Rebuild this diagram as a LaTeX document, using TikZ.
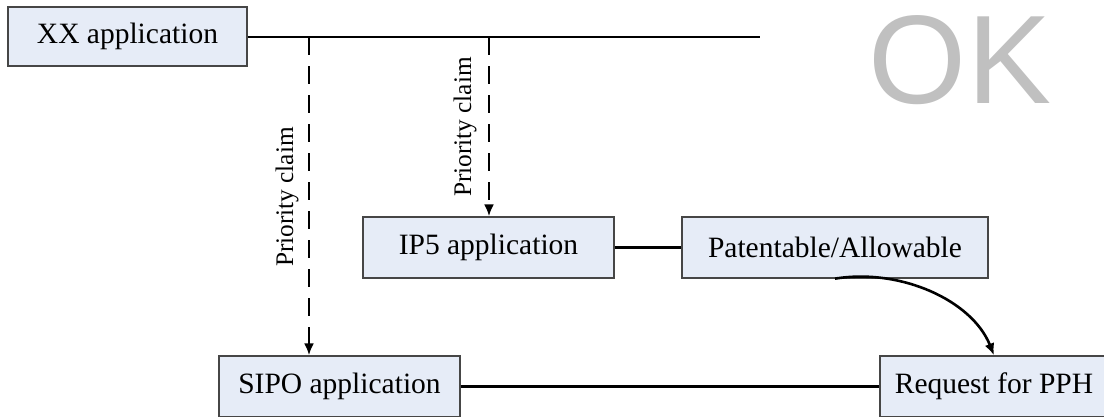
\documentclass[tikz,border=0pt]{standalone}
\usepackage{fontspec}
\setmainfont{Liberation Serif}
\newfontfamily\oksans{Liberation Sans}
\usetikzlibrary{arrows.meta}
\definecolor{boxfill}{RGB}{230,236,247}
\definecolor{boxline}{RGB}{70,70,70}
\definecolor{okgray}{RGB}{192,192,192}
\tikzset{
  box/.style={draw=boxline, line width=1.3pt, fill=boxfill, inner sep=0pt,
    font=\fontsize{29.5}{32}\selectfont, minimum height=61pt},
  link/.style={line width=2.6pt},
  claim/.style={line width=2.6pt, dash pattern=on 18pt off 11pt,
    -{Latex[length=12pt,width=10pt]}},
  curvearrow/.style={line width=2.6pt, -{Latex[length=12pt,width=10pt]}},
  lbl/.style={rotate=90, font=\fontsize{25.3}{27}\selectfont, inner sep=0pt},
}
\begin{document}
\begin{tikzpicture}[x=1pt,y=-1pt]
\useasboundingbox (0,0) rectangle (1104,416);
\begin{scope}
\clip (0,0) rectangle (1104,416);
\node[box, minimum width=239pt, minimum height=59pt] (xx) at (127.5,36.5) {XX application};
\node[box, minimum width=251pt] (ip5) at (488.5,247.5) {IP5 application};
\node[box, minimum width=306pt] (pat) at (835,247.5) {Patentable/Allowable};
\node[box, minimum width=241pt] (sipo) at (339.5,386.5) {SIPO application};
\node[box, minimum width=228pt] (pph) at (994,386.5) {Request for PPH};
\coordinate (tend) at (760,37);
\coordinate (t1) at (309,37);
\coordinate (t2) at (489,37);
\draw[link] (xx.east |- tend) -- (tend);
\draw[claim] (t1) -- (t1 |- sipo.north);
\draw[claim] (t2) -- (t2 |- ip5.north);
\draw[link] (ip5.east) -- (pat.west);
\draw[link] (sipo.east) -- (pph.west);
\draw[curvearrow] (pat.south) .. controls (900,268) and (972,300) .. (pph.north);
\node[lbl] (l1) at (287,197) {Priority claim};
\node[lbl] (l2) at (465,127) {Priority claim};
\node[anchor=base, text=okgray, font=\oksans\fontsize{126}{126}\selectfont, inner sep=0pt] (ok) at (960,103) {OK};
\end{scope}
\end{tikzpicture}
\end{document}
